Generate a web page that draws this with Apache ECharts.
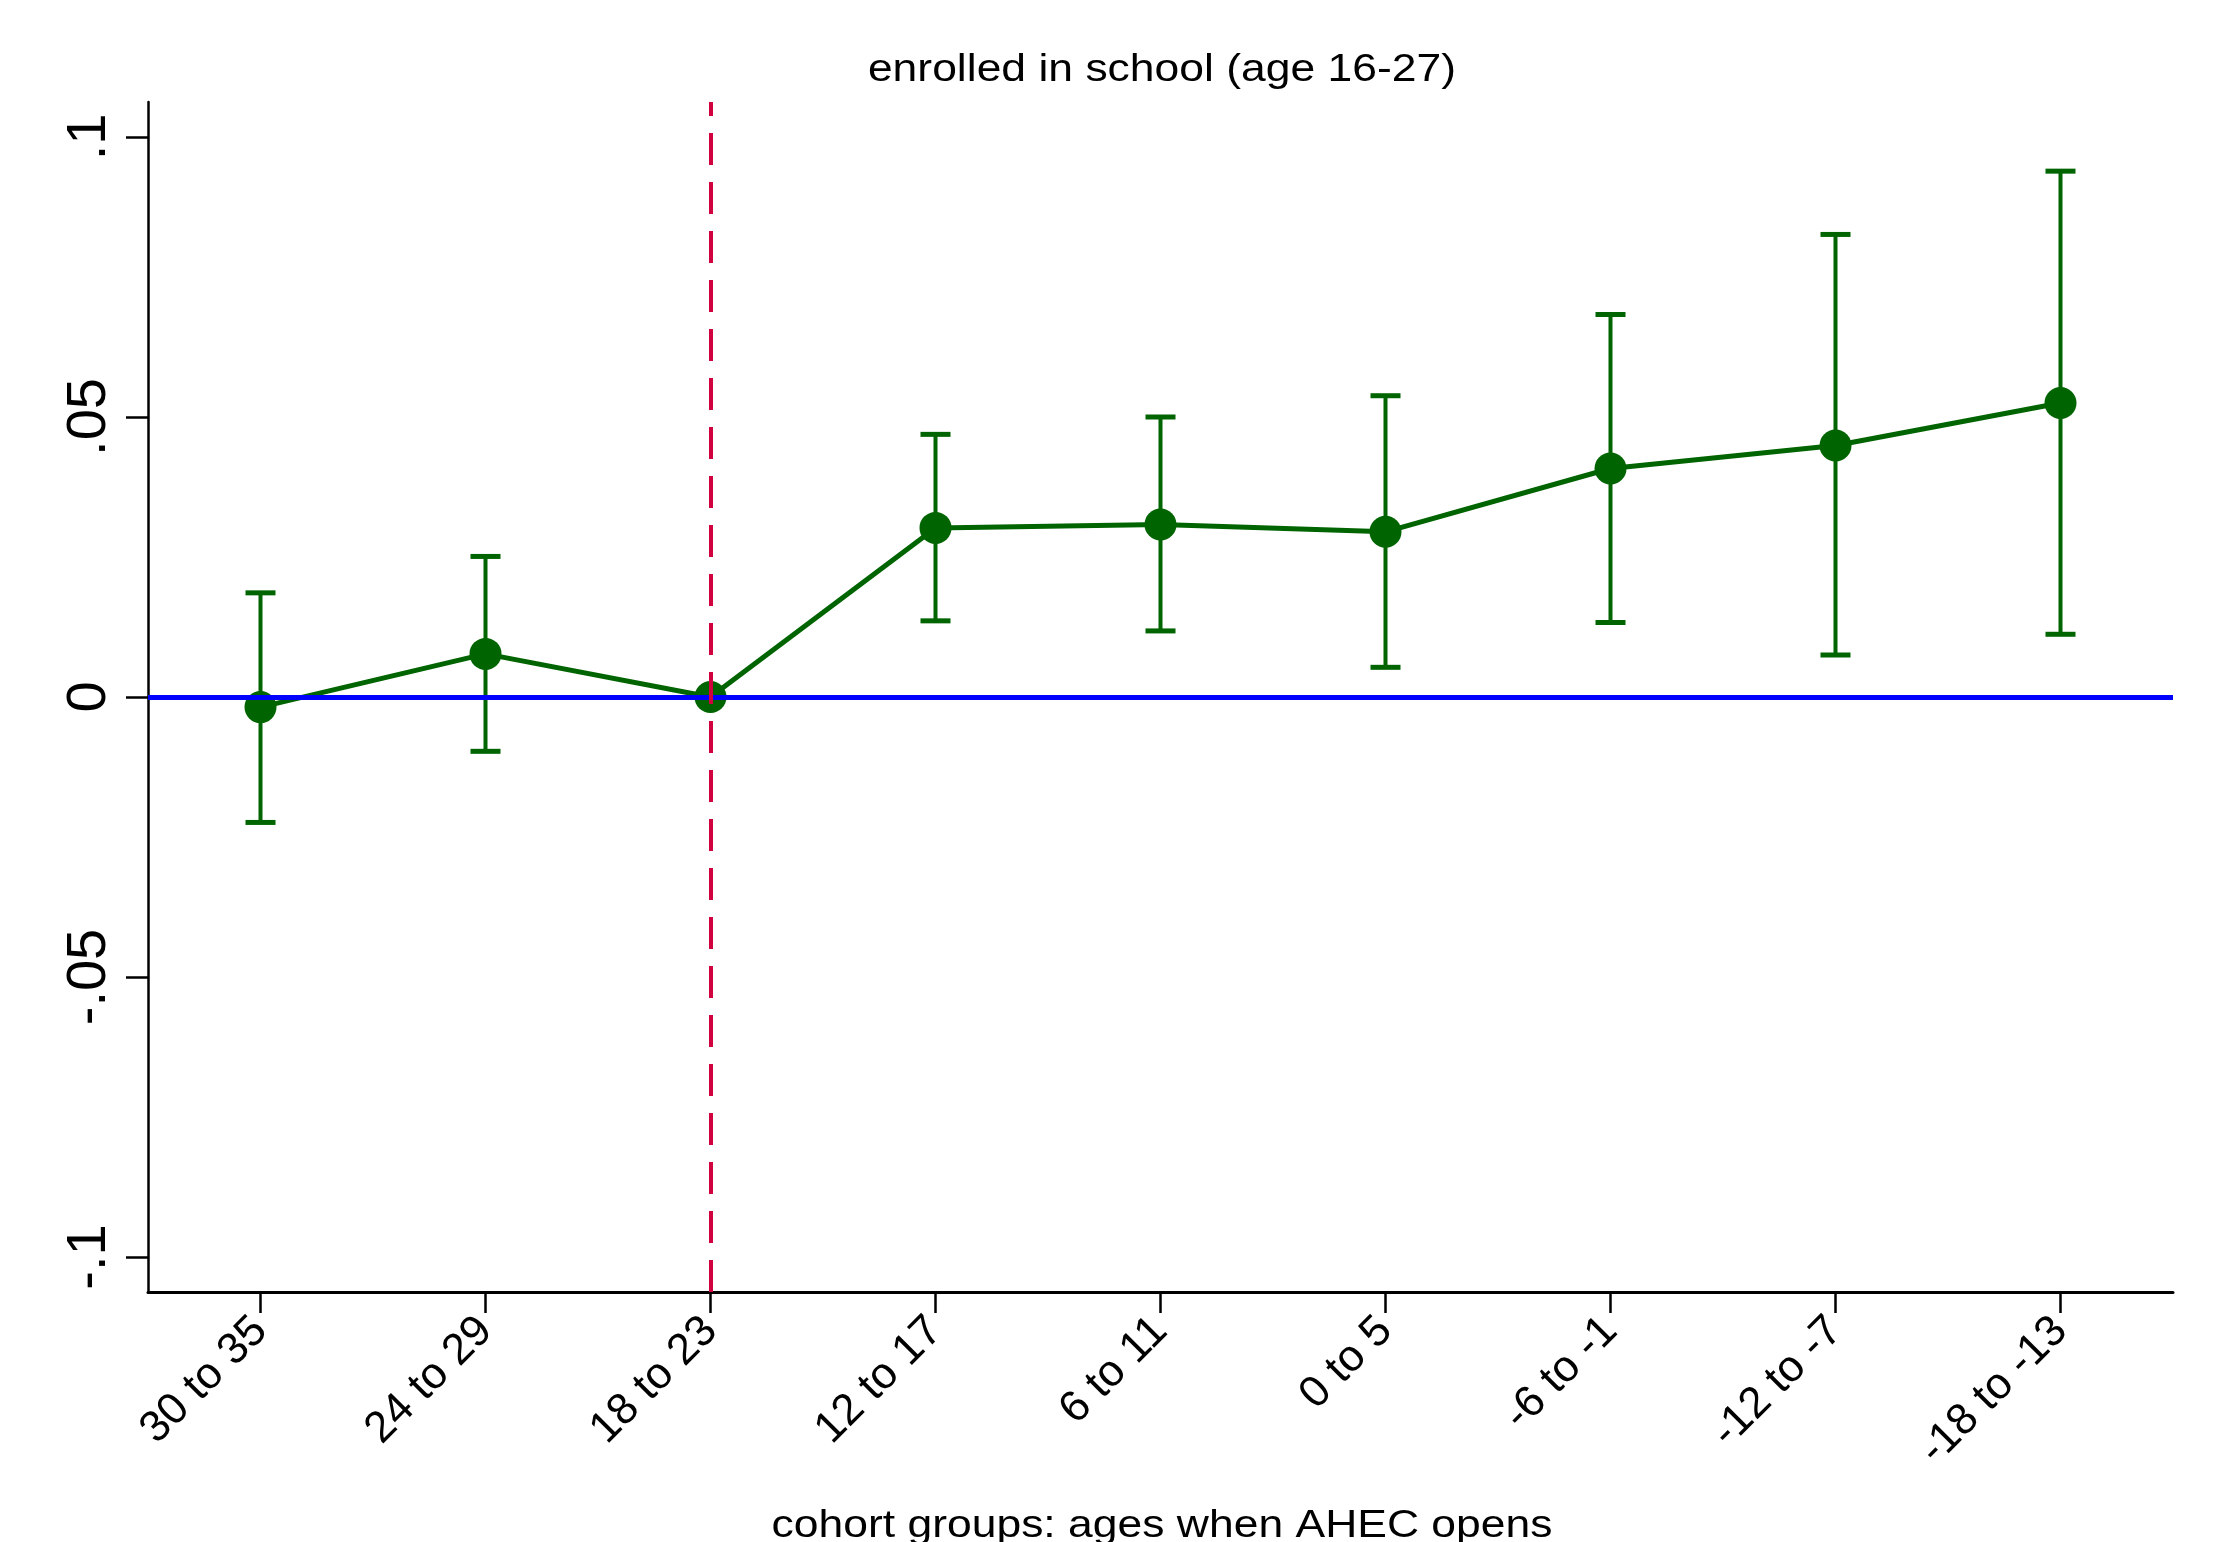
<!DOCTYPE html>
<html>
<head>
<meta charset="utf-8">
<script src="https://cdn.jsdelivr.net/npm/echarts@6/dist/echarts.min.js"></script>
<style>
  html, body { margin: 0; padding: 0; background: #fff; }
  #chart { width: 2213px; height: 1542px; }
</style>
</head>
<body>
<div id="chart"></div>
<script>
// Cohort groups: ages when the AHEC opens
const categories = ['30 to 35', '24 to 29', '18 to 23', '12 to 17', '6 to 11', '0 to 5', '-6 to -1', '-12 to -7', '-18 to -13'];
// Point estimates (18 to 23 is the omitted reference group)
const coef = [-0.0018, 0.0077, 0, 0.0302, 0.0308, 0.0295, 0.0408, 0.0449, 0.0525];
// Confidence interval bounds
const ciLow = [-0.0224, -0.0097, null, 0.0136, 0.0118, 0.0053, 0.0133, 0.0075, 0.0112];
const ciHigh = [0.0186, 0.0251, null, 0.0469, 0.0500, 0.0538, 0.0683, 0.0826, 0.0939];
// Y tick values
const yTicks = [-0.1, -0.05, 0, 0.05, 0.1];
const referenceGroup = '18 to 23';

const GREEN = '#006400';
const FONT = '"Liberation Sans", Arial, sans-serif';

const chart = echarts.init(document.getElementById('chart'), null, { renderer: 'canvas' });

const errData = ciLow
  .map((lo, i) => (lo == null ? null : [i, lo, ciHigh[i]]))
  .filter(d => d !== null);

const fmtY = v => (v === 0 ? '0' : String(v).replace('0.', '.'));

chart.setOption({
  animation: false,
  backgroundColor: '#ffffff',
  grid: { left: 148, right: 40, top: 102, bottom: 250, containLabel: false },
  graphic: [
    {
      type: 'text', x: 1162, y: 70, scaleX: 1.14,
      style: { text: 'enrolled in school (age 16-27)', fontSize: 39, fontFamily: FONT, fill: '#000', align: 'center', verticalAlign: 'middle' }
    },
    {
      type: 'text', x: 1162, y: 1526, scaleX: 1.14,
      style: { text: 'cohort groups: ages when AHEC opens', fontSize: 39, fontFamily: FONT, fill: '#000', align: 'center', verticalAlign: 'middle' }
    }
  ],
  xAxis: {
    type: 'category',
    data: categories,
    boundaryGap: true,
    axisLine: { onZero: false, lineStyle: { color: '#000', width: 3 } },
    axisTick: { show: true, interval: 0, alignWithLabel: true, length: 21, lineStyle: { color: '#000', width: 2.5 } },
    axisLabel: { rotate: 45, margin: 32, fontSize: 44, fontFamily: FONT, color: '#000', interval: 0 },
    splitLine: { show: false }
  },
  yAxis: {
    type: 'value',
    min: -0.10625,
    max: 0.10625,
    axisLine: { show: true, lineStyle: { color: '#000', width: 2.5 } },
    axisTick: { show: true, length: 22, customValues: yTicks, lineStyle: { color: '#000', width: 2.5 } },
    axisLabel: { rotate: 90, margin: 30, fontSize: 56, fontFamily: FONT, color: '#000', customValues: yTicks, formatter: fmtY },
    splitLine: { show: false }
  },
  series: [
    {
      // reference lines: zero effect and the omitted cohort
      type: 'line',
      data: [],
      z: 1,
      silent: true,
      markLine: {
        silent: true,
        symbol: 'none',
        label: { show: false },
        data: [
          { yAxis: 0, lineStyle: { color: '#0000ff', width: 5, type: 'solid' } },
          { xAxis: referenceGroup, lineStyle: { color: '#d1003f', width: 4, type: [32, 17] } }
        ]
      }
    },
    {
      type: 'custom',
      z: 2,
      silent: true,
      data: errData,
      encode: { x: 0, y: [1, 2] },
      renderItem(params, api) {
        const i = api.value(0);
        const lo = api.coord([i, api.value(1)]);
        const hi = api.coord([i, api.value(2)]);
        const w = 15;
        const st = { stroke: GREEN, lineWidth: 4 };
        const cap = { stroke: GREEN, lineWidth: 5 };
        return {
          type: 'group',
          children: [
            { type: 'line', shape: { x1: lo[0], y1: lo[1], x2: hi[0], y2: hi[1] }, style: st },
            { type: 'line', shape: { x1: lo[0] - w, y1: lo[1], x2: lo[0] + w, y2: lo[1] }, style: cap },
            { type: 'line', shape: { x1: hi[0] - w, y1: hi[1], x2: hi[0] + w, y2: hi[1] }, style: cap }
          ]
        };
      }
    },
    {
      type: 'line',
      z: 3,
      data: coef,
      symbol: 'circle',
      symbolSize: 32,
      silent: true,
      lineStyle: { color: GREEN, width: 5 },
      itemStyle: { color: GREEN },
      emphasis: { disabled: true }
    }
  ]
});
</script>
</body>
</html>
